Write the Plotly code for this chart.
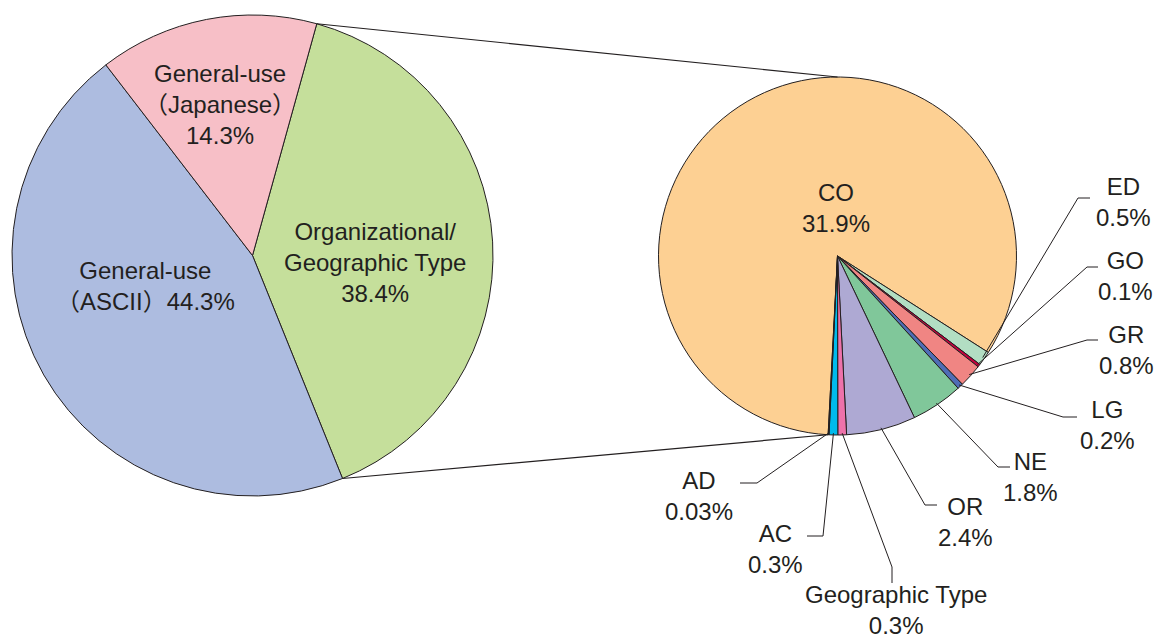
import math
import plotly.graph_objects as go

W, H = 1155, 639

# left pie: breakdown of all names
main_labels = ["Organizational/<br>Geographic Type", "General-use<br>（ASCII）", "General-use<br>（Japanese）"]
main_values = [38.4, 44.3, 14.3]
main_colors = ["#C5DF9B", "#ADBCE0", "#F7BFC7"]

# right pie: breakdown of the organizational / geographic slice
sub_labels = ["CO", "ED", "GO", "GR", "LG", "NE", "OR", "Geographic Type", "AC", "AD"]
sub_values = [31.9, 0.5, 0.1, 0.8, 0.2, 1.8, 2.4, 0.3, 0.3, 0.03]
sub_colors = ["#FDD093", "#B2DEC3", "#C6003D", "#F08583", "#4F6DB6",
              "#80C79A", "#AEA9D3", "#EE72AA", "#00BAEC", "#333333"]

INK = "#231F20"
FONT = "Liberation Sans, Arial, Noto Sans CJK JP, sans-serif"
FS = 24

# pie geometry in pixels
L_CX, L_CY, L_R, L_ROT = 252.5, 255.5, 240.5, 15.5
R_CX, R_CY, R_R, R_ROT = 837.5, 256, 179, 183


def px(x):
    return x / W


def py(y):
    return 1 - y / H


def spans(values, rot):
    tot = sum(values)
    a = rot
    out = []
    for v in values:
        s = 360 * v / tot
        out.append((a, a + s))
        a += s
    return out


def on_circle(cx, cy, r, deg):
    t = math.radians(deg)
    return cx + r * math.sin(t), cy - r * math.cos(t)


def pct(v):
    return f"{v}%"


def label(x, y, txt):
    return dict(x=px(x), y=py(y), xref="paper", yref="paper",
                xanchor="center", yanchor="middle",
                text=txt, showarrow=False, align="center",
                font=dict(size=FS, color=INK, family=FONT))


fig = go.Figure()

fig.add_trace(go.Pie(
    labels=main_labels, values=main_values, sort=False, direction="clockwise",
    rotation=L_ROT, textinfo="none", hoverinfo="label+percent",
    marker=dict(colors=main_colors, line=dict(color=INK, width=1)),
    domain=dict(x=[px(L_CX - L_R), px(L_CX + L_R)], y=[py(L_CY + L_R), py(L_CY - L_R)]),
))

fig.add_trace(go.Pie(
    labels=sub_labels, values=sub_values, sort=False, direction="clockwise",
    rotation=R_ROT, textinfo="none", hoverinfo="label+percent",
    marker=dict(colors=sub_colors, line=dict(color=INK, width=1)),
    domain=dict(x=[px(R_CX - R_R), px(R_CX + R_R)], y=[py(R_CY + R_R), py(R_CY - R_R)]),
))

shapes = []
annotations = []

# connector lines between the two pies
l_sp = spans(main_values, L_ROT)
r_sp = spans(sub_values, R_ROT)
a0 = on_circle(L_CX, L_CY, L_R, l_sp[0][0])
b0 = on_circle(R_CX, R_CY, R_R, 0)
a1 = on_circle(L_CX, L_CY, L_R, l_sp[0][1])
b1 = on_circle(R_CX, R_CY, R_R, r_sp[0][0])
for p, q in [(a0, b0), (a1, b1)]:
    shapes.append(dict(type="line", xref="paper", yref="paper",
                       x0=px(p[0]), y0=py(p[1]), x1=px(q[0]), y1=py(q[1]),
                       line=dict(color=INK, width=1.2)))

# labels inside the left pie
left_pos = [(375, 263), (145, 286), (220, 104)]
for lab, v, (x, y) in zip(main_labels, main_values, left_pos):
    if "ASCII" in lab:
        txt = lab + pct(v)
    else:
        txt = lab + "<br>" + pct(v)
    annotations.append(label(x, y, txt))

# CO label inside right pie
annotations.append(label(836, 208, sub_labels[0] + "<br>" + pct(sub_values[0])))

# outside labels with leader lines: elbow, end, text centre (pixels)
callouts = {
    "ED": ((1078, 198), (1090, 198), (1123, 202)),
    "GO": ((1087, 267), (1098, 267), (1125, 276)),
    "GR": ((1087, 340), (1098, 340), (1126, 350)),
    "LG": ((1063, 417), (1077, 417), (1107, 425)),
    "NE": ((998, 467), (1010, 467), (1030, 477)),
    "OR": ((925, 505), (937, 505), (965, 522)),
    "Geographic Type": ((892, 567), (892, 583), (896, 610)),
    "AC": ((823, 536), (807, 536), (775, 549)),
    "AD": ((757, 483), (740, 483), (699, 496)),
}
for lab, v, (s0, s1) in zip(sub_labels, sub_values, r_sp):
    if lab not in callouts:
        continue
    elbow, end, tpos = callouts[lab]
    start = on_circle(R_CX, R_CY, R_R * 0.99, (s0 + s1) / 2)
    path = "M {} {} L {} {} L {} {}".format(px(start[0]), py(start[1]),
                                            px(elbow[0]), py(elbow[1]),
                                            px(end[0]), py(end[1]))
    shapes.append(dict(type="path", xref="paper", yref="paper", path=path,
                       line=dict(color=INK, width=1)))
    annotations.append(label(tpos[0], tpos[1], lab + "<br>" + pct(v)))

fig.update_layout(
    width=W, height=H,
    margin=dict(l=0, r=0, t=0, b=0),
    paper_bgcolor="white",
    showlegend=False,
    shapes=shapes,
    annotations=annotations,
    font=dict(family=FONT, color=INK),
)

# drop the default page margin so the figure sits at the window's corner
fig.write_html("out.html", config={"displayModeBar": False},
               post_script="document.body.style.margin='0';")
